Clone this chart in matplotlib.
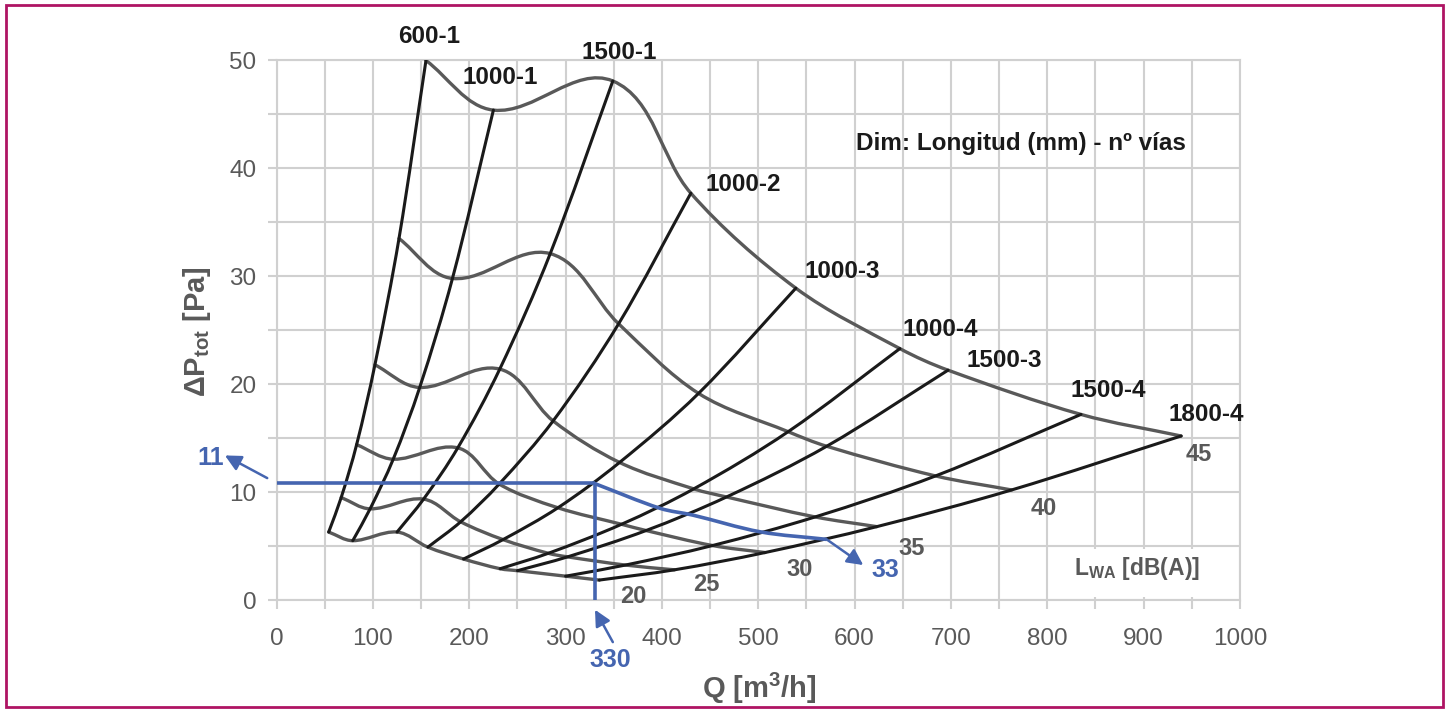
import numpy as np
import matplotlib.pyplot as plt
from matplotlib.path import Path
from matplotlib.patches import PathPatch, Rectangle

plt.rcParams['font.family'] = ['Liberation Sans', 'DejaVu Sans']
plt.rcParams['mathtext.fontset'] = 'custom'
plt.rcParams['mathtext.rm'] = 'Liberation Sans'
plt.rcParams['mathtext.bf'] = 'Liberation Sans:bold'
plt.rcParams['mathtext.it'] = 'Liberation Sans:italic'

# unit models (length mm - number of ways), left to right
models = ["600-1", "1000-1", "1500-1", "1000-2", "1000-3",
          "1000-4", "1500-3", "1500-4", "1800-4"]
# sound power levels L_WA [dB(A)]
levels = [20, 25, 30, 35, 40, 45]

# operating points (Q [m3/h], dP [Pa]) of every model at every sound level
q_20 = [54, 79, 125, 157, 194, 232, 250, 300, 335]
dp_20 = [6.3, 5.5, 6.3, 4.9, 3.8, 2.9, 2.72, 2.21, 1.85]
q_25 = [67, 97, 152.5, 191, 235, 282, 302, 362, 413]
dp_25 = [9.5, 8.45, 9.35, 7.25, 5.6, 4.33, 4.0, 3.24, 2.8]
q_30 = [83, 121, 188, 231, 292, 358, 383.5, 452.5, 507]
dp_30 = [14.4, 13.05, 14.1, 10.75, 8.55, 7.02, 6.44, 5.05, 4.4]
q_35 = [102, 148.5, 231.6, 287, 356, 433, 467, 559, 623]
dp_35 = [21.8, 19.7, 21.4, 16.6, 12.75, 10.3, 9.55, 7.7, 6.8]
q_40 = [127, 182.5, 284, 355, 438, 531, 571, 684, 763]
dp_40 = [33.5, 29.8, 32.1, 25.6, 19.15, 15.6, 14.25, 11.5, 10.2]
q_45 = [155, 225, 349, 430, 539, 647, 697, 835, 939]
dp_45 = [50.0, 45.4, 48.1, 37.7, 28.9, 23.3, 21.3, 17.2, 15.2]

# worked example
sel_q = 330
sel_dp = 10.8
sel_label_dp = "11"
sel_label_db = "33"
ex_q = [330, 398, 432, 502, 571]
ex_dp = [10.8, 8.5, 7.87, 6.32, 5.62]

q_rows = [q_20, q_25, q_30, q_35, q_40, q_45]
dp_rows = [dp_20, dp_25, dp_30, dp_35, dp_40, dp_45]

BLUE = '#4565B0'
GRAY = '#595959'
DARK = '#1A1A1A'
GRID = '#D0D0D0'

# pixels per data unit, used so the smoothing works in screen proportions
SX, SY = 0.963, 10.8


def smooth_path(xs, ys):
    # smoothed line through the points: bezier segments, tangent along the
    # neighbours, handle length a third of the segment length
    p = np.column_stack([np.asarray(xs, float) * SX, np.asarray(ys, float) * SY])
    n = len(p)
    seg = np.linalg.norm(np.diff(p, axis=0), axis=1)
    dirs = np.zeros_like(p)
    dirs[0] = p[1] - p[0]
    dirs[-1] = p[-1] - p[-2]
    dirs[1:-1] = p[2:] - p[:-2]
    dirs /= np.linalg.norm(dirs, axis=1)[:, None]
    verts = [p[0]]
    codes = [Path.MOVETO]
    for i in range(n - 1):
        verts += [p[i] + dirs[i] * seg[i] / 3, p[i + 1] - dirs[i + 1] * seg[i] / 3, p[i + 1]]
        codes += [Path.CURVE4] * 3
    verts = np.array(verts) / [SX, SY]
    return Path(verts, codes)


fig = plt.figure(figsize=(14.5, 7.09), dpi=100)
ax = fig.add_axes([0.1908, 0.1537, 0.6643, 0.761])
ax.set_xlim(0, 1000)
ax.set_ylim(0, 50)
ax.set_xticks(np.arange(0, 1001, 100))
ax.set_xticks(np.arange(0, 1001, 50), minor=True)
ax.set_yticks(np.arange(0, 51, 10))
ax.set_yticks(np.arange(0, 51, 5), minor=True)
ax.grid(which='both', color=GRID, lw=1.5)
ax.set_axisbelow(True)
ax.tick_params(which='both', direction='out', length=6.5, width=1.5, color=GRID)
ax.tick_params(axis='x', which='major', pad=14, labelsize=17.5, labelcolor=GRAY)
ax.tick_params(axis='y', which='major', pad=8, labelsize=17.5, labelcolor=GRAY)
for s in ax.spines.values():
    s.set_color(GRID)
    s.set_linewidth(1.5)

# white box behind the L_WA legend text
ax.add_patch(Rectangle((803, 0.25), 194, 4.5, fc='white', ec='none', zorder=1))

# iso sound level lines (gray)
for qs, dps in zip(q_rows, dp_rows):
    ax.add_patch(PathPatch(smooth_path(qs, dps), fill=False, ec=GRAY, lw=2.4,
                           capstyle='round', joinstyle='round', zorder=3))

# model curves (black)
for j in range(len(models)):
    qs = [row[j] for row in q_rows]
    dps = [row[j] for row in dp_rows]
    ax.add_patch(PathPatch(smooth_path(qs, dps), fill=False, ec=DARK, lw=2.2,
                           capstyle='round', joinstyle='round', zorder=4))

# model labels
model_pos = [(158, 52.2), (232.5, 48.4), (355.4, 50.7), (484.2, 38.5), (586.7, 30.4),
             (688.8, 25.1), (755.3, 22.2), (862.9, 19.4), (965.4, 17.2)]
for name, (x, y) in zip(models, model_pos):
    ax.text(x, y, name, fontsize=17.5, fontweight='bold', color=DARK,
            ha='center', va='center', clip_on=False, zorder=6)

# level labels
level_pos = [(370.2, 0.3), (446.2, 1.4), (543.4, 2.8), (659.4, 4.8), (796, 8.5), (956.8, 13.5)]
for lv, (x, y) in zip(levels, level_pos):
    ax.text(x, y, str(lv), fontsize=17, fontweight='bold', color=GRAY,
            ha='center', va='center', clip_on=False, zorder=6)

ax.text(773, 42.3, "Dim: Longitud (mm) - nº vías", fontsize=17.5, fontweight='bold',
        color=DARK, ha='center', va='center', zorder=6)
ax.text(893, 2.95, r"L$_{\mathbf{WA}}$ [dB(A)]", fontsize=16.5, fontweight='bold',
        color=GRAY, ha='center', va='center', zorder=6)

# worked example in blue
ax.plot([0, sel_q], [sel_dp, sel_dp], color=BLUE, lw=2.6, zorder=7, solid_capstyle='butt')
ax.plot([sel_q, sel_q], [0, sel_dp], color=BLUE, lw=2.6, zorder=7, solid_capstyle='butt')
ax.add_patch(PathPatch(smooth_path(ex_q, ex_dp), fill=False, ec=BLUE, lw=2.6, zorder=7))

arrow = dict(arrowstyle='-|>', color=BLUE, lw=1.8, mutation_scale=24, shrinkA=0, shrinkB=0)
ax.annotate('', xy=(-53.7, 13.4), xytext=(-9.8, 11.3), arrowprops=arrow,
            annotation_clip=False, zorder=7)
ax.text(-69, 13.2, sel_label_dp, fontsize=18, fontweight='bold', color=BLUE,
        ha='center', va='center', clip_on=False)
ax.annotate('', xy=(330.5, -0.9), xytext=(349, -3.9), arrowprops=arrow,
            annotation_clip=False, zorder=7)
ax.text(346, -5.55, str(sel_q), fontsize=18, fontweight='bold', color=BLUE,
        ha='center', va='center', clip_on=False)
ax.annotate('', xy=(609, 3.24), xytext=(571, 5.62), arrowprops=arrow,
            annotation_clip=False, zorder=7)
ax.text(631.6, 2.78, sel_label_db, fontsize=18, fontweight='bold', color=BLUE,
        ha='center', va='center', clip_on=False, zorder=7)

# axis titles
fig.text(0.524, 0.0296, r"Q [m$^{\mathbf{3}}$/h]", fontsize=21, fontweight='bold',
         color=GRAY, ha='center', va='center')
fig.text(0.1359, 0.533, r"ΔP$_{\mathbf{tot}}$ [Pa]", fontsize=21, fontweight='bold',
         color=GRAY, ha='center', va='center', rotation=90)

# frame around the figure
fig.add_artist(Rectangle((6 / 1450, 2 / 709), 1437 / 1450, 702.5 / 709,
                         transform=fig.transFigure, fill=False, ec='#AF1463', lw=2))

plt.savefig("out.png", dpi=100)
